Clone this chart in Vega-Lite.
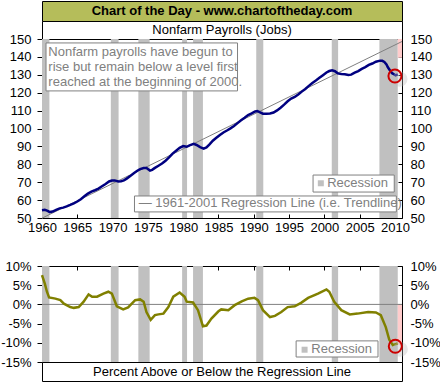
{
  "$schema": "https://vega.github.io/schema/vega-lite/v6.json",
  "padding": 0,
  "background": "white",
  "spacing": 0,
  "bounds": "flush",
  "config": {
    "view": {"stroke": "black", "strokeWidth": 1},
    "font": "Liberation Sans",
    "axis": {"labelFont": "Liberation Sans", "labelFontSize": 13, "labelColor": "black", "domain": false, "grid": false, "tickColor": "black", "labelFlush": false, "labelOverlap": false}
  },
  "datasets": {
    "recessions": [
      {"start": 1960.0, "end": 1961.05},
      {"start": 1969.75, "end": 1970.85},
      {"start": 1973.65, "end": 1975.25},
      {"start": 1979.85, "end": 1980.55},
      {"start": 1981.4, "end": 1982.8},
      {"start": 1990.35, "end": 1991.35},
      {"start": 2001.05, "end": 2001.95},
      {"start": 2007.8, "end": 2010.4}
    ],
    "payrolls": [
      {"year": 1960.0, "jobs": 54.3}, {"year": 1960.4, "jobs": 54.6}, {"year": 1960.8, "jobs": 54.0}, {"year": 1961.1, "jobs": 53.3},
      {"year": 1961.5, "jobs": 53.6}, {"year": 1962.0, "jobs": 54.6}, {"year": 1962.5, "jobs": 55.4}, {"year": 1963.0, "jobs": 55.8},
      {"year": 1963.5, "jobs": 56.5}, {"year": 1964.0, "jobs": 57.3}, {"year": 1964.5, "jobs": 58.2}, {"year": 1965.0, "jobs": 59.2},
      {"year": 1965.5, "jobs": 60.5}, {"year": 1966.0, "jobs": 62.1}, {"year": 1966.5, "jobs": 63.6}, {"year": 1967.0, "jobs": 64.7},
      {"year": 1967.5, "jobs": 65.5}, {"year": 1968.0, "jobs": 66.4}, {"year": 1968.5, "jobs": 67.7}, {"year": 1969.0, "jobs": 69.0},
      {"year": 1969.5, "jobs": 70.4}, {"year": 1969.9, "jobs": 70.9}, {"year": 1970.3, "jobs": 71.0}, {"year": 1970.8, "jobs": 70.4},
      {"year": 1971.2, "jobs": 70.5}, {"year": 1971.6, "jobs": 71.0}, {"year": 1972.0, "jobs": 72.0}, {"year": 1972.5, "jobs": 73.4},
      {"year": 1973.0, "jobs": 75.0}, {"year": 1973.5, "jobs": 76.4}, {"year": 1973.9, "jobs": 77.3}, {"year": 1974.4, "jobs": 77.9},
      {"year": 1974.8, "jobs": 77.9}, {"year": 1975.3, "jobs": 76.5}, {"year": 1975.6, "jobs": 76.9}, {"year": 1976.0, "jobs": 78.0},
      {"year": 1976.5, "jobs": 79.2}, {"year": 1977.0, "jobs": 80.4}, {"year": 1977.5, "jobs": 82.0}, {"year": 1978.0, "jobs": 83.9},
      {"year": 1978.5, "jobs": 86.0}, {"year": 1979.0, "jobs": 87.6}, {"year": 1979.5, "jobs": 89.2}, {"year": 1980.0, "jobs": 90.2},
      {"year": 1980.5, "jobs": 89.8}, {"year": 1980.9, "jobs": 90.6}, {"year": 1981.5, "jobs": 91.4}, {"year": 1981.9, "jobs": 90.8},
      {"year": 1982.4, "jobs": 89.6}, {"year": 1982.9, "jobs": 88.8}, {"year": 1983.3, "jobs": 89.4}, {"year": 1983.7, "jobs": 91.0},
      {"year": 1984.2, "jobs": 93.2}, {"year": 1984.7, "jobs": 94.8}, {"year": 1985.2, "jobs": 96.4}, {"year": 1985.7, "jobs": 97.8},
      {"year": 1986.2, "jobs": 98.9}, {"year": 1986.7, "jobs": 100.1}, {"year": 1987.2, "jobs": 101.4}, {"year": 1987.7, "jobs": 103.0},
      {"year": 1988.2, "jobs": 104.6}, {"year": 1988.7, "jobs": 106.0}, {"year": 1989.2, "jobs": 107.5}, {"year": 1989.7, "jobs": 108.4},
      {"year": 1990.2, "jobs": 109.5}, {"year": 1990.5, "jobs": 109.8}, {"year": 1990.9, "jobs": 109.0}, {"year": 1991.3, "jobs": 108.3},
      {"year": 1991.8, "jobs": 108.2}, {"year": 1992.3, "jobs": 108.4}, {"year": 1992.8, "jobs": 108.9}, {"year": 1993.3, "jobs": 110.1},
      {"year": 1993.8, "jobs": 111.6}, {"year": 1994.3, "jobs": 113.3}, {"year": 1994.8, "jobs": 115.2}, {"year": 1995.3, "jobs": 116.7},
      {"year": 1995.8, "jobs": 117.6}, {"year": 1996.3, "jobs": 119.0}, {"year": 1996.8, "jobs": 120.6}, {"year": 1997.3, "jobs": 122.1},
      {"year": 1997.8, "jobs": 123.8}, {"year": 1998.3, "jobs": 125.4}, {"year": 1998.8, "jobs": 126.8}, {"year": 1999.3, "jobs": 128.3},
      {"year": 1999.8, "jobs": 129.8}, {"year": 2000.3, "jobs": 131.3}, {"year": 2000.7, "jobs": 132.1}, {"year": 2001.1, "jobs": 132.5},
      {"year": 2001.5, "jobs": 132.0}, {"year": 2001.9, "jobs": 130.8}, {"year": 2002.4, "jobs": 130.4}, {"year": 2002.9, "jobs": 130.3},
      {"year": 2003.4, "jobs": 129.9}, {"year": 2003.8, "jobs": 130.1}, {"year": 2004.3, "jobs": 131.2}, {"year": 2004.8, "jobs": 132.1},
      {"year": 2005.3, "jobs": 133.3}, {"year": 2005.8, "jobs": 134.3}, {"year": 2006.3, "jobs": 135.5}, {"year": 2006.8, "jobs": 136.3},
      {"year": 2007.3, "jobs": 137.3}, {"year": 2007.9, "jobs": 137.9}, {"year": 2008.2, "jobs": 137.8}, {"year": 2008.5, "jobs": 137.2},
      {"year": 2008.8, "jobs": 135.8}, {"year": 2009.0, "jobs": 134.2}, {"year": 2009.3, "jobs": 132.4}, {"year": 2009.6, "jobs": 130.9},
      {"year": 2009.9, "jobs": 130.2}, {"year": 2010.1, "jobs": 129.7}, {"year": 2010.4, "jobs": 130.2}
    ],
    "trend": [
      {"year": 1960, "value": 49.9},
      {"year": 2011, "value": 148.6}
    ],
    "pct": [
      {"year": 1960.0, "pct": 7.6}, {"year": 1960.4, "pct": 5.4}, {"year": 1960.7, "pct": 3.3}, {"year": 1961.0, "pct": 1.8},
      {"year": 1961.9, "pct": 1.5}, {"year": 1962.6, "pct": 1.1}, {"year": 1963.1, "pct": 0.2}, {"year": 1964.0, "pct": -0.7},
      {"year": 1964.5, "pct": -0.9}, {"year": 1965.2, "pct": -0.7}, {"year": 1965.9, "pct": 0.7}, {"year": 1966.6, "pct": 2.6},
      {"year": 1967.1, "pct": 2.0}, {"year": 1967.8, "pct": 2.0}, {"year": 1968.7, "pct": 2.8}, {"year": 1969.4, "pct": 3.3},
      {"year": 1969.9, "pct": 2.8}, {"year": 1970.6, "pct": -0.5}, {"year": 1971.5, "pct": -1.3}, {"year": 1972.2, "pct": -0.8},
      {"year": 1973.2, "pct": 1.1}, {"year": 1973.9, "pct": 1.3}, {"year": 1974.4, "pct": 0.7}, {"year": 1974.8, "pct": -2.0},
      {"year": 1975.4, "pct": -4.0}, {"year": 1976.0, "pct": -2.8}, {"year": 1976.5, "pct": -2.6}, {"year": 1977.2, "pct": -2.4},
      {"year": 1977.9, "pct": -0.7}, {"year": 1978.6, "pct": 2.0}, {"year": 1979.5, "pct": 3.1}, {"year": 1980.2, "pct": 2.0},
      {"year": 1980.5, "pct": 0.7}, {"year": 1981.4, "pct": 0.5}, {"year": 1982.1, "pct": -1.5}, {"year": 1982.8, "pct": -5.7},
      {"year": 1983.3, "pct": -5.5}, {"year": 1984.0, "pct": -3.7}, {"year": 1985.0, "pct": -1.8}, {"year": 1985.4, "pct": -1.3},
      {"year": 1986.4, "pct": -1.5}, {"year": 1987.3, "pct": -0.2}, {"year": 1988.3, "pct": 0.8}, {"year": 1989.2, "pct": 1.5},
      {"year": 1990.1, "pct": 1.7}, {"year": 1990.6, "pct": 1.1}, {"year": 1991.3, "pct": -1.5}, {"year": 1992.3, "pct": -3.3},
      {"year": 1993.0, "pct": -3.0}, {"year": 1993.9, "pct": -2.0}, {"year": 1994.8, "pct": -0.7}, {"year": 1995.8, "pct": -0.5},
      {"year": 1996.7, "pct": 0.4}, {"year": 1997.7, "pct": 1.7}, {"year": 1999.1, "pct": 2.8}, {"year": 2000.3, "pct": 3.9},
      {"year": 2000.7, "pct": 3.3}, {"year": 2001.4, "pct": 0.7}, {"year": 2002.4, "pct": -1.5}, {"year": 2003.6, "pct": -2.6},
      {"year": 2004.7, "pct": -2.4}, {"year": 2006.2, "pct": -2.0}, {"year": 2007.3, "pct": -2.1}, {"year": 2008.0, "pct": -2.8},
      {"year": 2008.7, "pct": -5.9}, {"year": 2009.2, "pct": -9.2}, {"year": 2009.7, "pct": -10.6}, {"year": 2010.0, "pct": -10.4},
      {"year": 2010.4, "pct": -10.2}
    ]
  },
  "vconcat": [
    {
      "width": 360, "height": 20,
      "view": {"fill": "#B5BD5A", "stroke": "black"},
      "data": {"values": [{"t": "Chart of the Day - www.chartoftheday.com"}]},
      "mark": {"type": "text", "fontSize": 13, "fontWeight": "bold", "color": "black", "font": "Liberation Sans"},
      "encoding": {"text": {"field": "t"}}
    },
    {
      "width": 360, "height": 18,
      "view": {"fill": "white", "stroke": "black"},
      "data": {"values": [{"t": "Nonfarm Payrolls (Jobs)"}]},
      "mark": {"type": "text", "fontSize": 13, "color": "black", "font": "Liberation Sans"},
      "encoding": {"text": {"field": "t"}}
    },
    {
      "width": 360, "height": 179,
      "resolve": {"axis": {"x": "independent", "y": "independent"}},
      "layer": [
        {
          "data": {"name": "recessions"},
          "mark": {"type": "rect", "color": "#C0C0C0"},
          "encoding": {
            "x": {"field": "start", "type": "quantitative", "title": null,
                  "scale": {"domain": [1960, 2011], "nice": false, "zero": false},
                  "axis": {"values": [1960,1965,1970,1975,1980,1985,1990,1995,2000,2005,2010], "tickSize": -4, "labelPadding": 7, "format": "d", "labelOverlap": false, "labelFlush": false, "labelBound": false}},
            "x2": {"field": "end"}
          }
        },
        {
          "data": {"values": [{}]},
          "mark": {"type": "rect", "color": "#FFCCCC"},
          "encoding": {
            "x": {"datum": 2010.4, "type": "quantitative", "title": null, "axis": null},
            "x2": {"datum": 2011},
            "y": {"datum": 139.5, "type": "quantitative", "axis": null, "title": null},
            "y2": {"datum": 150}
          }
        },
        {
          "data": {"name": "trend"},
          "mark": {"type": "line", "color": "#808080", "strokeWidth": 1},
          "encoding": {
            "x": {"field": "year", "type": "quantitative", "title": null, "axis": null},
            "y": {"field": "value", "type": "quantitative", "title": null,
                  "scale": {"domain": [50, 150], "nice": false, "zero": false},
                  "axis": {"orient": "right", "values": [50,60,70,80,90,100,110,120,130,140,150], "tickSize": -4, "labelPadding": 12, "labelOverlap": false}}
          }
        },
        {
          "data": {"name": "payrolls"},
          "mark": {"type": "line", "color": "#000080", "strokeWidth": 2.5},
          "encoding": {
            "x": {"field": "year", "type": "quantitative", "title": null, "axis": null},
            "y": {"field": "jobs", "type": "quantitative", "title": null,
                  "axis": {"orient": "left", "values": [50,60,70,80,90,100,110,120,130,140,150], "tickSize": 5, "labelPadding": 6, "labelOverlap": false}}
          }
        },
        {
          "data": {"values": [{}]},
          "mark": {"type": "rect", "fill": "white", "stroke": "#808080", "strokeWidth": 1},
          "encoding": {
            "x": {"datum": 1960.57, "type": "quantitative", "title": null, "axis": null},
            "x2": {"datum": 1987.7},
            "y": {"datum": 147.8, "type": "quantitative", "axis": null, "title": null},
            "y2": {"datum": 121.0}
          }
        },
        {
          "data": {"values": [{"t": ["Nonfarm payrolls have begun to", "rise but remain below a level first", "reached at the beginning of 2000."]}]},
          "mark": {"type": "text", "align": "left", "baseline": "top", "fontSize": 13, "lineHeight": 15, "color": "#808080", "font": "Liberation Sans"},
          "encoding": {
            "x": {"datum": 1960.9, "type": "quantitative", "title": null, "axis": null},
            "y": {"datum": 145.9, "type": "quantitative", "axis": null, "title": null},
            "text": {"field": "t"}
          }
        },
        {
          "data": {"values": [{}]},
          "mark": {"type": "rect", "fill": "white", "stroke": "#808080", "strokeWidth": 1},
          "encoding": {
            "x": {"datum": 1998.4, "type": "quantitative", "title": null, "axis": null},
            "x2": {"datum": 2009.9},
            "y": {"datum": 74.0, "type": "quantitative", "axis": null, "title": null},
            "y2": {"datum": 64.5}
          }
        },
        {
          "data": {"values": [{}]},
          "mark": {"type": "point", "shape": "square", "filled": true, "color": "#C0C0C0", "size": 36, "opacity": 1},
          "encoding": {
            "x": {"datum": 1999.5, "type": "quantitative", "title": null, "axis": null},
            "y": {"datum": 69.4, "type": "quantitative", "axis": null, "title": null}
          }
        },
        {
          "data": {"values": [{"t": "Recession"}]},
          "mark": {"type": "text", "align": "left", "baseline": "middle", "fontSize": 13, "color": "#808080", "font": "Liberation Sans"},
          "encoding": {
            "x": {"datum": 2000.4, "type": "quantitative", "title": null, "axis": null},
            "y": {"datum": 69.7, "type": "quantitative", "axis": null, "title": null},
            "text": {"field": "t"}
          }
        },
        {
          "data": {"values": [{}]},
          "mark": {"type": "rect", "fill": "white", "stroke": "#808080", "strokeWidth": 1},
          "encoding": {
            "x": {"datum": 1973.1, "type": "quantitative", "title": null, "axis": null},
            "x2": {"datum": 2010.2},
            "y": {"datum": 62.3, "type": "quantitative", "axis": null, "title": null},
            "y2": {"datum": 53.4}
          }
        },
        {
          "data": {"values": [{"t": "— 1961-2001 Regression Line (i.e. Trendline)"}]},
          "mark": {"type": "text", "align": "left", "baseline": "middle", "fontSize": 13, "color": "#808080", "font": "Liberation Sans"},
          "encoding": {
            "x": {"datum": 1973.7, "type": "quantitative", "title": null, "axis": null},
            "y": {"datum": 58.2, "type": "quantitative", "axis": null, "title": null},
            "text": {"field": "t"}
          }
        },
        {
          "data": {"values": [{}]},
          "mark": {"type": "point", "filled": true, "color": "#bbbbbb", "opacity": 0.35, "size": 230, "xOffset": 5, "yOffset": 3},
          "encoding": {
            "x": {"datum": 2010.0, "type": "quantitative", "title": null, "axis": null},
            "y": {"datum": 129.3, "type": "quantitative", "axis": null, "title": null}
          }
        },
        {
          "data": {"values": [{}]},
          "mark": {"type": "point", "filled": false, "color": "#CC0000", "strokeWidth": 2, "size": 170, "opacity": 1},
          "encoding": {
            "x": {"datum": 2010.0, "type": "quantitative", "title": null, "axis": null},
            "y": {"datum": 129.3, "type": "quantitative", "axis": null, "title": null}
          }
        }
      ]
    },
    {
      "width": 360, "height": 48,
      "view": {"stroke": null},
      "data": {"values": []},
      "mark": "text",
      "encoding": {}
    },
    {
      "width": 360, "height": 96,
      "resolve": {"axis": {"x": "independent", "y": "independent"}},
      "layer": [
        {
          "data": {"name": "recessions"},
          "mark": {"type": "rect", "color": "#C0C0C0"},
          "encoding": {
            "x": {"field": "start", "type": "quantitative", "title": null,
                  "scale": {"domain": [1960, 2011], "nice": false, "zero": false},
                  "axis": {"orient": "top", "values": [1960,1965,1970,1975,1980,1985,1990,1995,2000,2005,2010], "tickSize": -4, "labels": false}},
            "x2": {"field": "end"}
          }
        },
        {
          "data": {"values": [{}]},
          "mark": {"type": "rect", "color": "#FFCCCC"},
          "encoding": {
            "x": {"datum": 2010.4, "type": "quantitative", "title": null, "axis": null},
            "x2": {"datum": 2011},
            "y": {"datum": -10.5, "type": "quantitative", "axis": null, "title": null},
            "y2": {"datum": 0}
          }
        },
        {
          "data": {"values": [{}]},
          "mark": {"type": "rule", "color": "#808080", "strokeWidth": 1},
          "encoding": {
            "y": {"datum": 0, "type": "quantitative", "title": null,
                  "scale": {"domain": [-15, 10], "nice": false, "zero": false},
                  "axis": {"orient": "right", "values": [-15,-10,-5,0,5,10], "tickSize": -4, "labelPadding": 12, "labelOverlap": false, "labelExpr": "datum.value + '%'"}}
          }
        },
        {
          "data": {"name": "pct"},
          "mark": {"type": "line", "color": "#808000", "strokeWidth": 2.5},
          "encoding": {
            "x": {"field": "year", "type": "quantitative", "title": null, "axis": null},
            "y": {"field": "pct", "type": "quantitative", "title": null,
                  "axis": {"orient": "left", "values": [-15,-10,-5,0,5,10], "tickSize": 5, "labelPadding": 6, "labelOverlap": false, "labelExpr": "datum.value + '%'"}}
          }
        },
        {
          "data": {"values": [{}]},
          "mark": {"type": "rect", "fill": "white", "stroke": "#808080", "strokeWidth": 1},
          "encoding": {
            "x": {"datum": 1996.0, "type": "quantitative", "title": null, "axis": null},
            "x2": {"datum": 2007.6},
            "y": {"datum": -9.5, "type": "quantitative", "axis": null, "title": null},
            "y2": {"datum": -13.7}
          }
        },
        {
          "data": {"values": [{}]},
          "mark": {"type": "point", "shape": "square", "filled": true, "color": "#C0C0C0", "size": 36, "opacity": 1},
          "encoding": {
            "x": {"datum": 1997.2, "type": "quantitative", "title": null, "axis": null},
            "y": {"datum": -11.8, "type": "quantitative", "axis": null, "title": null}
          }
        },
        {
          "data": {"values": [{"t": "Recession"}]},
          "mark": {"type": "text", "align": "left", "baseline": "middle", "fontSize": 13, "color": "#808080", "font": "Liberation Sans"},
          "encoding": {
            "x": {"datum": 1998.15, "type": "quantitative", "title": null, "axis": null},
            "y": {"datum": -11.6, "type": "quantitative", "axis": null, "title": null},
            "text": {"field": "t"}
          }
        },
        {
          "data": {"values": [{}]},
          "mark": {"type": "point", "filled": true, "color": "#bbbbbb", "opacity": 0.35, "size": 230, "xOffset": 5, "yOffset": 3},
          "encoding": {
            "x": {"datum": 2010.05, "type": "quantitative", "title": null, "axis": null},
            "y": {"datum": -10.9, "type": "quantitative", "axis": null, "title": null}
          }
        },
        {
          "data": {"values": [{}]},
          "mark": {"type": "point", "filled": false, "color": "#CC0000", "strokeWidth": 2, "size": 170, "opacity": 1},
          "encoding": {
            "x": {"datum": 2010.05, "type": "quantitative", "title": null, "axis": null},
            "y": {"datum": -10.9, "type": "quantitative", "axis": null, "title": null}
          }
        }
      ]
    },
    {
      "width": 360, "height": 19,
      "view": {"fill": "white", "stroke": "black"},
      "data": {"values": [{"t": "Percent Above or Below the Regression Line"}]},
      "mark": {"type": "text", "fontSize": 13, "color": "black", "font": "Liberation Sans"},
      "encoding": {"text": {"field": "t"}}
    }
  ]
}
